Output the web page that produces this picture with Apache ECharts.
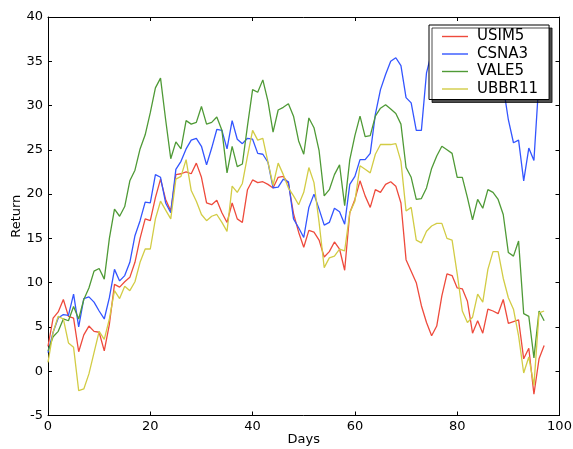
<!DOCTYPE html>
<html>
<head>
<meta charset="utf-8">
<script src="https://cdn.jsdelivr.net/npm/echarts@6/dist/echarts.min.js"></script>
<style>
html,body{margin:0;padding:0;background:#fff;}
#chart{width:573px;height:449px;}
</style>
</head>
<body>
<div id="chart"></div>
<script>
var days = [0,1,2,3,4,5,6,7,8,9,10,11,12,13,14,15,16,17,18,19,20,21,22,23,24,25,26,27,28,29,30,31,32,33,34,35,36,37,38,39,40,41,42,43,44,45,46,47,48,49,50,51,52,53,54,55,56,57,58,59,60,61,62,63,64,65,66,67,68,69,70,71,72,73,74,75,76,77,78,79,80,81,82,83,84,85,86,87,88,89,90,91,92,93,94,95,96,97];

var seriesNames = ['USIM5', 'CSNA3', 'VALE5', 'UBBR11'];

var usim5 = [2.8,6.0,6.7,8.1,6.2,6.0,2.2,4.1,5.1,4.5,4.4,2.3,5.3,9.8,9.5,10.1,10.6,12.3,15.0,17.2,17.0,19.6,21.7,19.4,18.1,22.2,22.3,22.5,22.3,23.5,21.9,19.0,18.8,19.3,17.9,16.8,19.0,17.2,16.8,20.5,21.6,21.3,21.4,21.1,20.7,21.9,22.0,21.2,17.8,15.7,14.0,15.9,15.7,14.8,12.9,13.5,14.6,13.8,11.4,17.9,19.4,21.5,19.8,18.5,20.5,20.2,21.1,21.4,20.9,19.0,12.6,11.3,10.0,7.4,5.5,4.0,5.1,8.5,11.0,10.8,9.4,9.3,7.9,4.3,5.7,4.3,7.0,6.8,6.5,8.1,5.4,5.6,5.8,1.4,2.6,-2.6,1.4,2.9];

var csna3 = [2.1,4.4,6.0,6.4,6.3,8.7,5.0,8.2,8.4,7.8,6.8,5.9,8.3,11.5,10.2,10.8,12.3,15.3,17.0,19.1,19.0,22.2,21.9,19.0,17.9,22.8,23.7,25.1,26.1,26.3,25.4,23.3,25.2,27.3,27.2,25.1,28.3,26.2,25.7,26.3,26.2,24.6,24.5,23.6,20.7,20.8,21.7,21.4,17.2,16.2,15.1,18.5,20.0,18.3,16.5,16.8,18.4,18.0,16.6,21.1,22.0,23.9,23.9,24.6,29.0,31.8,33.5,35.0,35.4,34.5,30.9,30.3,27.2,27.2,33.7,36.0,37.0,36.2,35.4,36.5,35.8,34.3,33.6,34.8,35.9,36.4,35.1,34.0,33.1,32.2,28.4,25.8,26.1,21.5,25.2,23.8,33.0,32.0];

var vale5 = [2.3,3.9,4.5,5.9,5.7,7.3,5.9,8.1,9.4,11.3,11.6,10.4,15.0,18.3,17.5,18.6,21.5,22.7,25.1,26.7,29.2,32.0,33.1,28.4,24.0,25.9,25.1,28.3,27.9,28.1,29.9,27.9,28.1,28.7,27.2,22.4,25.4,23.1,23.4,27.7,31.8,31.5,32.9,30.5,27.0,29.5,29.8,30.2,28.8,26.0,24.5,28.6,27.5,24.9,19.8,20.5,22.2,23.3,18.7,23.9,26.6,28.8,26.5,26.6,28.8,29.7,30.1,29.6,29.1,27.9,23.0,21.9,19.4,19.5,20.7,22.9,24.3,25.4,25.0,24.6,21.9,21.9,19.6,17.1,19.4,18.4,20.5,20.2,19.4,17.7,13.4,13.0,14.7,6.5,6.2,1.5,6.8,5.7];

var ubbr11 = [1.0,4.4,6.2,5.9,3.2,2.7,-2.2,-2.0,-0.3,2.1,4.5,3.6,5.9,9.1,8.2,9.6,9.1,10.1,12.3,13.8,13.8,17.2,19.2,18.2,17.2,21.7,22.0,23.9,20.4,19.2,17.7,17.0,17.5,17.7,16.8,15.8,20.9,20.2,21.2,24.3,27.2,26.1,26.3,23.6,21.0,23.5,22.2,20.7,19.8,18.8,20.2,23.0,21.3,16.8,11.7,12.8,13.0,13.8,13.6,17.9,19.2,23.2,22.8,22.4,24.5,25.6,25.6,25.6,25.7,23.7,18.1,18.5,14.8,14.5,15.8,16.4,16.7,16.7,15.0,14.8,11.0,6.8,5.5,6.1,8.7,7.8,11.5,13.5,13.5,10.5,8.3,7.0,4.0,-0.2,1.6,-1.6,6.6,6.8];

var xTicks = {min: 0, max: 100, interval: 20};
var yTicks = {min: -5, max: 40, interval: 5};

var colors = ['#ee4a3c', '#3355ff', '#4f9a36', '#d2cc45'];
var allValues = [usim5, csna3, vale5, ubbr11];

function pairs(vals) {
  return vals.map(function (v, i) { return [days[i], v]; });
}

var font = 'DejaVu Sans';
var axisCommon = {
  type: 'value',
  axisLine: {show: true, onZero: false, lineStyle: {color: '#000', width: 1}},
  axisTick: {show: true, inside: true, length: 4, lineStyle: {color: '#000', width: 1}},
  splitLine: {show: false},
  axisLabel: {color: '#000', fontFamily: font, fontSize: 13, margin: 5}
};

function mk(extra, base) {
  var o = JSON.parse(JSON.stringify(axisCommon));
  for (var k in extra) o[k] = extra[k];
  o.min = base.min; o.max = base.max; o.interval = base.interval;
  return o;
}

var chart = echarts.init(document.getElementById('chart'), null, {renderer: 'canvas'});
chart.setOption({
  animation: false,
  backgroundColor: '#fff',
  textStyle: {fontFamily: font},
  grid: {left: 48, right: 13.5, top: 17, bottom: 33.5, containLabel: false, outerBoundsMode: 'none'},
  xAxis: [
    mk({position: 'bottom', name: 'Days', nameLocation: 'middle', nameGap: 18, nameMoveOverlap: false,
        nameTextStyle: {color: '#000', fontFamily: font, fontSize: 13}}, xTicks),
    mk({position: 'top', axisLabel: {show: false}}, xTicks)
  ],
  yAxis: [
    mk({position: 'left', name: 'Return', nameLocation: 'middle', nameGap: 25, nameRotate: 90, nameMoveOverlap: false,
        nameTextStyle: {color: '#000', fontFamily: font, fontSize: 13}}, yTicks),
    mk({position: 'right', axisLabel: {show: false}}, yTicks)
  ],
  legend: {
    orient: 'vertical',
    left: 429,
    top: 25,
    data: seriesNames,
    icon: 'rect',
    itemWidth: 26,
    itemHeight: 1.4,
    itemGap: 2.5,
    padding: [4, 11, 3, 13],
    backgroundColor: '#fff',
    borderColor: '#000',
    borderWidth: 1,
    borderRadius: 0,
    shadowColor: 'rgba(0,0,0,0.7)',
    shadowBlur: 0,
    shadowOffsetX: 3,
    shadowOffsetY: 3,
    textStyle: {color: '#000', fontFamily: font, fontSize: 15, padding: [0, 0, 0, 4]},
    selectedMode: false
  },
  series: seriesNames.map(function (n, i) {
    return {
      name: n,
      type: 'line',
      data: pairs(allValues[i]),
      symbol: 'none',
      showSymbol: false,
      color: colors[i],
      lineStyle: {color: colors[i], width: 1.3},
      xAxisIndex: 0,
      yAxisIndex: 0
    };
  })
});
</script>
</body>
</html>
